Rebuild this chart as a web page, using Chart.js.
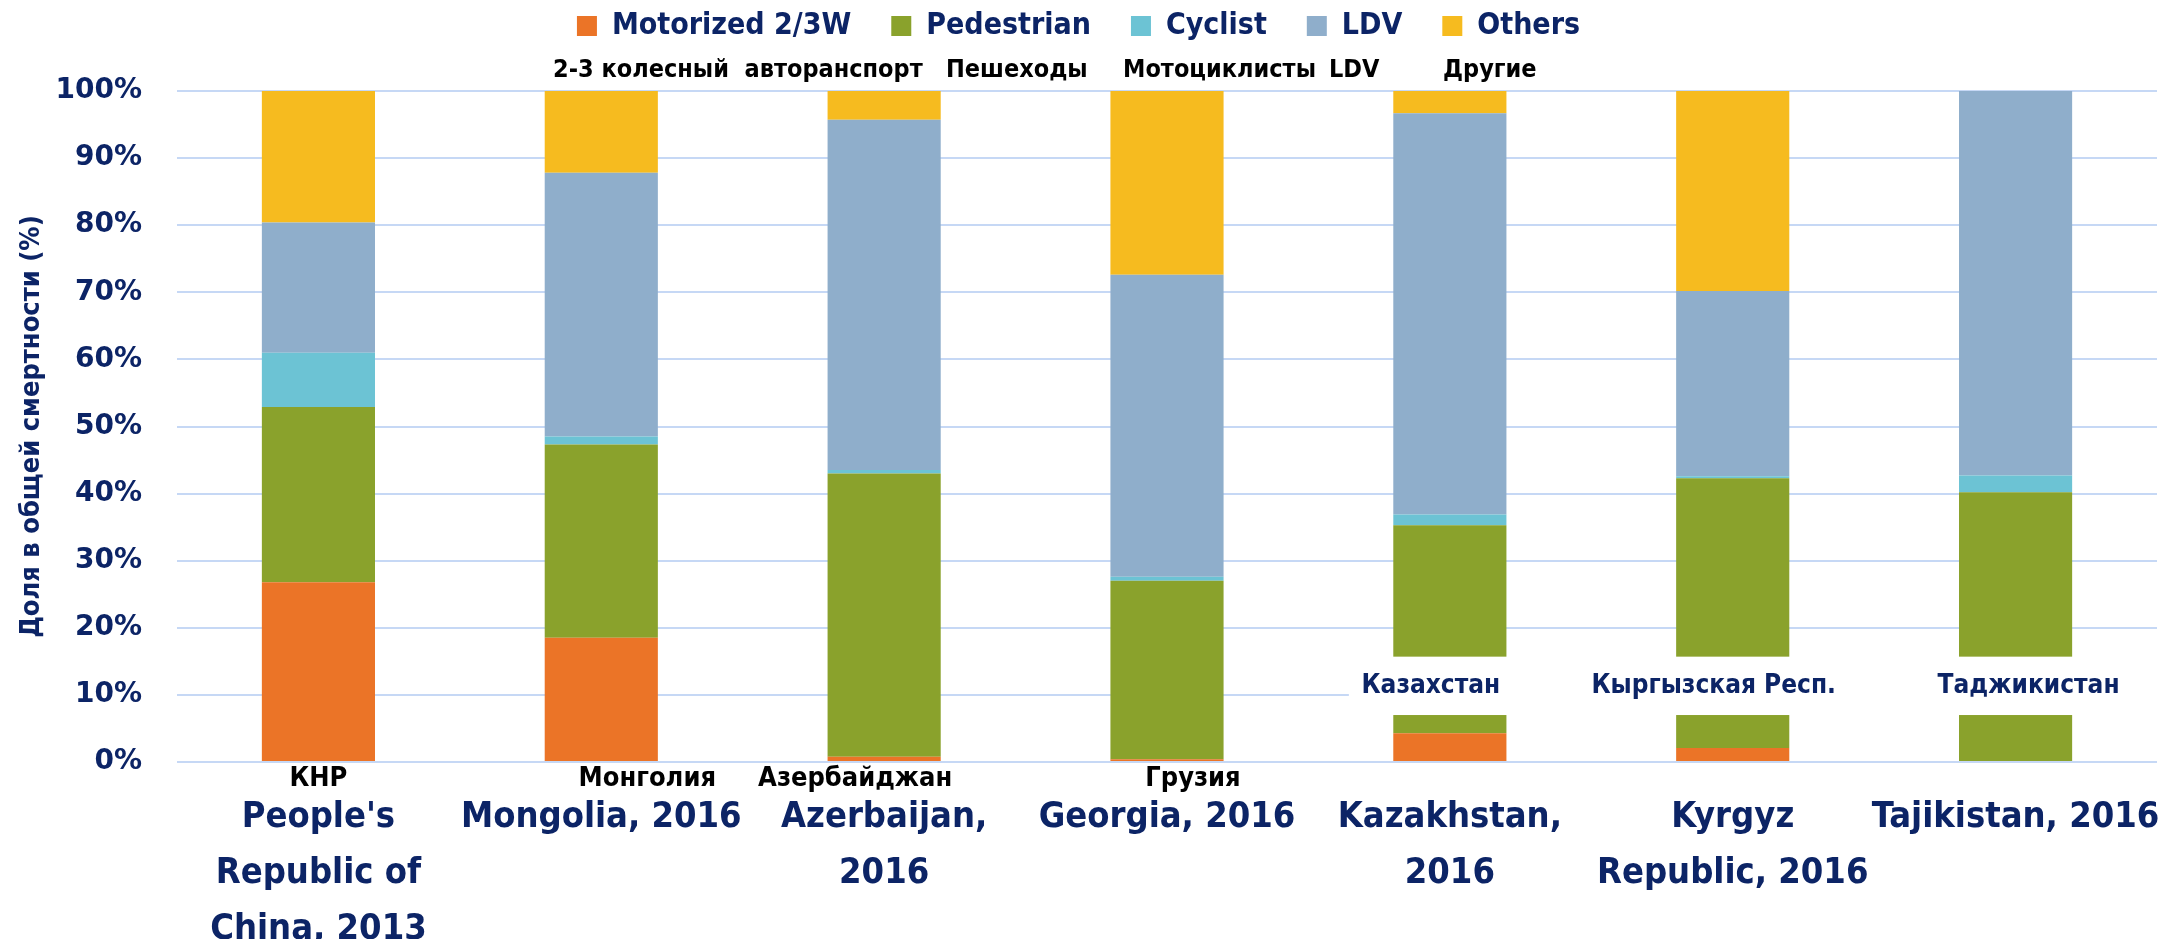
<!DOCTYPE html>
<html>
<head>
<meta charset="utf-8">
<title>Доля в общей смертности</title>
<script src="https://cdn.jsdelivr.net/npm/chart.js@4.4.1/dist/chart.umd.min.js"></script>
<style>
  html, body { margin: 0; padding: 0; background: #fff; }
  #wrap { width: 2168px; height: 939px; }
</style>
</head>
<body>
<div id="wrap"><canvas id="grafico"></canvas></div>
<script>
// Categorías del eje X (inglés, con saltos de línea)
const countries = [
  ["People's", 'Republic of', 'China, 2013'],
  'Mongolia, 2016',
  ['Azerbaijan,', '2016'],
  'Georgia, 2016',
  ['Kazakhstan,', '2016'],
  ['Kyrgyz', 'Republic, 2016'],
  'Tajikistan, 2016'
];
// Nombres en ruso que aparecen sobre el gráfico
const countriesRu = ['КНР', 'Монголия', 'Азербайджан', 'Грузия', 'Казахстан', 'Кыргызская Респ.', 'Таджикистан'];
const seriesNames = ['Motorized 2/3W', 'Pedestrian', 'Cyclist', 'LDV', 'Others'];
const seriesNamesRu = ['2-3 колесный  авторанспорт', 'Пешеходы', 'Мотоциклисты', 'LDV', 'Другие'];

// Valores (% de la mortalidad total)
const motorized  = [26.8, 18.5, 0.8, 0.4, 4.3, 2.1, 0];
const pedestrian = [26.1, 28.8, 42.2, 26.6, 31.0, 40.2, 40.2];
const cyclist    = [8.1, 1.2, 0.5, 0.6, 1.6, 0.3, 2.5];
const ldv        = [19.4, 39.3, 52.2, 45.0, 59.8, 27.6, 57.3];
const others     = [19.6, 12.2, 4.3, 27.4, 3.3, 29.8, 0];

// Franja blanca donde van las etiquetas rusas de los tres últimos países
const overlayBand = [7.0, 15.7];

const NAVY = '#0C2466';
const NARROW = "'Liberation Sans Narrow', 'Arial Narrow', 'DejaVu Sans Condensed', sans-serif";
const WIDE = "'DejaVu Sans', Verdana, sans-serif";

// Alto fijo de la leyenda para que el área del gráfico empiece donde toca
const legendHeight = {
  id: 'legendHeight',
  beforeInit(chart) {
    const fit = chart.legend.fit;
    chart.legend.fit = function () {
      fit.call(this);
      this.height = 120;
    };
  }
};

// Textos en ruso superpuestos
const ruLabels = {
  id: 'ruLabels',
  afterDatasetsDraw(chart) {
    const { ctx, chartArea, scales: { x, y } } = chart;
    ctx.save();

    // caja blanca sobre Kazajistán, Kirguistán y Tayikistán
    const top = y.getPixelForValue(overlayBand[1]);
    const bottom = y.getPixelForValue(overlayBand[0]);
    const left = x.getPixelForValue(4) - 101;
    ctx.fillStyle = '#fff';
    ctx.fillRect(left, top, chartArea.right - left + 2, bottom - top);

    ctx.textBaseline = 'middle';
    ctx.textAlign = 'center';
    ctx.font = 'bold 26px ' + NARROW;
    ctx.fillStyle = NAVY;
    const overlayShift = [-19, -19, 13];
    for (let i = 4; i < 7; i++) {
      ctx.fillText(countriesRu[i], x.getPixelForValue(i) + overlayShift[i - 4], (top + bottom) / 2);
    }

    // nombres bajo el eje
    ctx.fillStyle = '#000';
    ctx.font = 'bold 27px ' + NARROW;
    const belowShift = [0, 46, -29, 26];
    for (let i = 0; i < 4; i++) {
      ctx.fillText(countriesRu[i], x.getPixelForValue(i) + belowShift[i], chartArea.bottom + 17);
    }

    // traducción de la leyenda
    ctx.textAlign = 'left';
    ctx.font = 'bold 25px ' + NARROW;
    const legendX = [553, 946, 1123, 1329, 1443];
    seriesNamesRu.forEach((t, i) => ctx.fillText(t, legendX[i], chartArea.top - 21));
    ctx.restore();
  }
};

const colors = ['#EB7427', '#8AA22C', '#6CC3D4', '#8FAECB', '#F6BB1F'];
const values = [motorized, pedestrian, cyclist, ldv, others];

const ctx = document.getElementById('grafico');
new Chart(ctx, {
  type: 'bar',
  data: {
    labels: countries,
    datasets: seriesNames.map((name, i) => ({
      label: name,
      data: values[i],
      backgroundColor: colors[i],
      borderWidth: 0,
      categoryPercentage: 1,
      barPercentage: 0.4
    }))
  },
  options: {
    responsive: true,
    maintainAspectRatio: false,
    animation: false,
    layout: { autoPadding: false, padding: { top: -29, right: 11, left: 0, bottom: 0 } },
    plugins: {
      legend: {
        position: 'top',
        labels: {
          boxWidth: 20,
          boxHeight: 20,
          padding: 40,
          color: NAVY,
          font: { family: NARROW, size: 30, weight: 'bold' }
        }
      },
      tooltip: { enabled: false }
    },
    scales: {
      x: {
        stacked: true,
        grid: { display: false },
        border: { display: false },
        ticks: {
          color: NAVY,
          autoSkip: false,
          maxRotation: 0,
          padding: 20,
          font: { family: NARROW, size: 36, weight: 'bold', lineHeight: '56px' }
        },
        afterFit(scale) {
          scale.height = 177;
          scale.paddingLeft = 0;
          scale.paddingRight = 0;
        }
      },
      y: {
        stacked: true,
        min: 0,
        max: 100,
        grid: { color: '#C6D8F5', lineWidth: 2, drawTicks: false },
        border: { display: false },
        ticks: {
          stepSize: 10,
          padding: 35,
          color: NAVY,
          font: { family: WIDE, size: 28, weight: 'bold' },
          callback: v => v + '%'
        },
        title: {
          display: true,
          text: 'Доля в общей смертности (%)',
          color: NAVY,
          padding: { top: 16, bottom: 0 },
          font: { family: NARROW, size: 27, weight: 'bold' }
        },
        afterFit(scale) {
          scale.width = 177;
          scale.paddingTop = 0;
          scale.paddingBottom = 0;
        }
      }
    }
  },
  plugins: [legendHeight, ruLabels]
});
</script>
</body>
</html>
